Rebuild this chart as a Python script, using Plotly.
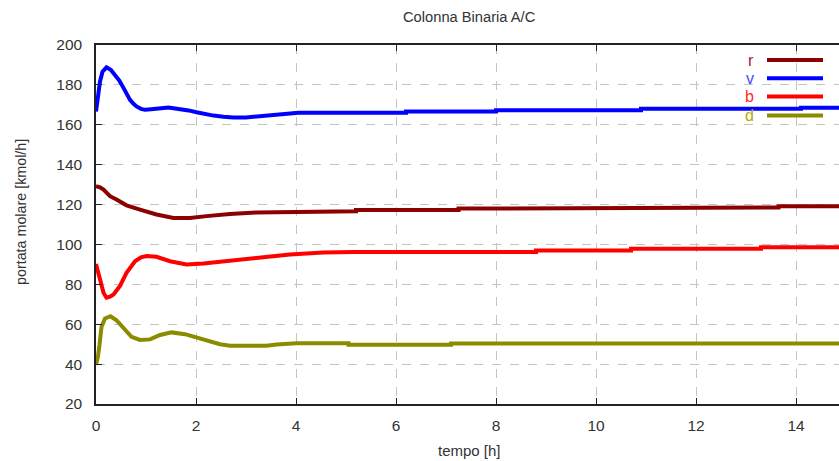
import plotly.graph_objects as go

# ---- data ----
t_v = [0, 0.03, 0.08, 0.13, 0.21, 0.30, 0.38, 0.47, 0.55, 0.62, 0.68, 0.75, 0.81, 0.90, 0.98,
       1.10, 1.21, 1.35, 1.45, 1.55, 1.68, 1.85, 2.01, 2.20, 2.35, 2.55, 2.75, 3.00, 3.20, 3.60,
       4.05, 6.2, 6.2, 8.0, 8.0, 10.9, 10.9, 14.1, 14.1, 14.86]
v = [166.6, 171.6, 181.7, 186.6, 188.8, 187.5, 185.2, 182.0, 178.5, 175.0, 172.5, 170.5, 169.2, 168.0, 167.5,
     167.8, 168.2, 168.3, 168.7, 168.3, 168.0, 167.2, 166.3, 165.3, 164.6, 164.0, 163.6, 163.7, 164.2, 165.0,
     166.0, 166.0, 166.6, 166.6, 167.3, 167.3, 168.0, 168.0, 168.6, 168.6]

t_r = [0, 0.08, 0.15, 0.28, 0.41, 0.61, 0.88, 1.21, 1.55, 1.88, 2.21, 2.68, 3.20, 3.88, 4.55,
       5.2, 5.2, 7.25, 7.25, 10.3, 10.3, 13.65, 13.65, 14.86]
r = [129.2, 128.6, 127.5, 124.2, 122.5, 119.6, 117.5, 115.0, 113.3, 113.3, 114.2, 115.3, 116.0, 116.3, 116.6,
     116.6, 117.3, 117.3, 118.0, 118.0, 118.5, 118.5, 119.2, 119.2]

t_b = [0, 0.04, 0.08, 0.15, 0.21, 0.28, 0.35, 0.48, 0.61, 0.78, 0.90, 1.01, 1.21, 1.48, 1.81,
       2.15, 2.68, 3.20, 3.88, 4.55, 5.15, 8.8, 8.8, 10.7, 10.7, 13.3, 13.3, 14.86]
b = [90.2, 87.0, 82.5, 75.8, 73.3, 73.8, 74.9, 79.2, 85.8, 91.6, 93.5, 94.2, 93.8, 91.6, 90.0,
     90.5, 92.0, 93.0, 95.0, 96.0, 96.2, 96.2, 97.0, 97.0, 97.9, 97.9, 98.6, 98.6]

t_d = [0, 0.04, 0.07, 0.11, 0.18, 0.29, 0.41, 0.55, 0.71, 0.88, 1.08, 1.28, 1.51, 1.78, 2.01,
       2.28, 2.48, 2.68, 3.41, 3.61, 4.01, 5.05, 5.05, 7.1, 7.1, 14.86]
d = [39.6, 44.0, 49.6, 58.7, 62.9, 64.0, 62.0, 57.9, 53.7, 52.1, 52.4, 54.6, 55.9, 55.0, 53.4,
     51.5, 50.0, 49.2, 49.2, 49.8, 50.4, 50.4, 49.7, 49.7, 50.3, 50.3]

series_names = ["r", "v", "b", "d"]
x_ticks = [0, 2, 4, 6, 8, 10, 12, 14]
y_ticks = [20, 40, 60, 80, 100, 120, 140, 160, 180, 200]

title_text = "Colonna Binaria A/C"
x_title = "tempo [h]"
y_title = "portata molare [kmol/h]"

# ---- styling ----
line_colors = {"r": "#8b0000", "v": "#0000ff", "b": "#ff0000", "d": "#8b8b00"}
label_colors = {"r": "#a0203a", "v": "#4a4af0", "b": "#ff2a2a", "d": "#b8a800"}
FONT = "Liberation Sans, Arial, sans-serif"
TXT = "#333333"

W, H = 839, 461
L, R, T, B = 96, 0, 45, 57
pw, ph = W - L - R, H - T - B


def px(xp):
    return (xp - L) / pw


def py(yp):
    return (H - B - yp) / ph


data = {"r": (t_r, r), "v": (t_v, v), "b": (t_b, b), "d": (t_d, d)}

fig = go.Figure()
for name in series_names:
    xs, ys = data[name]
    fig.add_trace(go.Scatter(x=xs, y=ys, mode="lines", name=name,
                             line=dict(color=line_colors[name], width=4),
                             showlegend=False))

annotations = [
    dict(text=title_text, x=px(469), y=py(17), xref="paper", yref="paper",
         showarrow=False, font=dict(family=FONT, size=14.7, color=TXT), xanchor="center", yanchor="middle"),
    dict(text=x_title, x=px(469), y=py(450), xref="paper", yref="paper",
         showarrow=False, font=dict(family=FONT, size=15, color=TXT), xanchor="center", yanchor="middle"),
    dict(text=y_title, x=px(21), y=py(212), xref="paper", yref="paper", textangle=-90,
         showarrow=False, font=dict(family=FONT, size=14.3, color=TXT), xanchor="center", yanchor="middle"),
]
shapes = []
leg_rows = [60, 78.3, 96.5, 115.5]
for name, yr in zip(series_names, leg_rows):
    annotations.append(dict(text=name, x=px(756), y=py(yr), xref="paper", yref="paper",
                            showarrow=False, xanchor="right", yanchor="middle",
                            font=dict(family=FONT, size=16, color=label_colors[name])))
    shapes.append(dict(type="line", xref="paper", yref="paper", x0=px(767), x1=px(823),
                       y0=py(yr), y1=py(yr), line=dict(color=line_colors[name], width=4)))

fig.update_layout(
    width=W, height=H,
    margin=dict(l=L, r=R, t=T, b=B, pad=0),
    paper_bgcolor="white", plot_bgcolor="white",
    annotations=annotations, shapes=shapes,
    font=dict(family=FONT, size=15, color=TXT),
)
fig.update_xaxes(range=[0, 14.86], tickvals=x_ticks, ticks="inside", ticklen=6, tickcolor="#222",
                 showline=True, linecolor="#222", linewidth=1.5, mirror="ticks",
                 showgrid=True, gridcolor="#c4c4c4", griddash="dash", gridwidth=1,
                 zeroline=False, tickfont=dict(family=FONT, size=15.5, color=TXT),
                 ticklabelstandoff=7)
fig.update_yaxes(range=[20, 200], tickvals=y_ticks, ticks="inside", ticklen=6, tickcolor="#222",
                 showline=True, linecolor="#222", linewidth=1.5, mirror=False,
                 showgrid=True, gridcolor="#c4c4c4", griddash="dash", gridwidth=1,
                 zeroline=False, tickfont=dict(family=FONT, size=15.5, color=TXT),
                 ticklabelstandoff=9)

fig.write_html("out.html")
